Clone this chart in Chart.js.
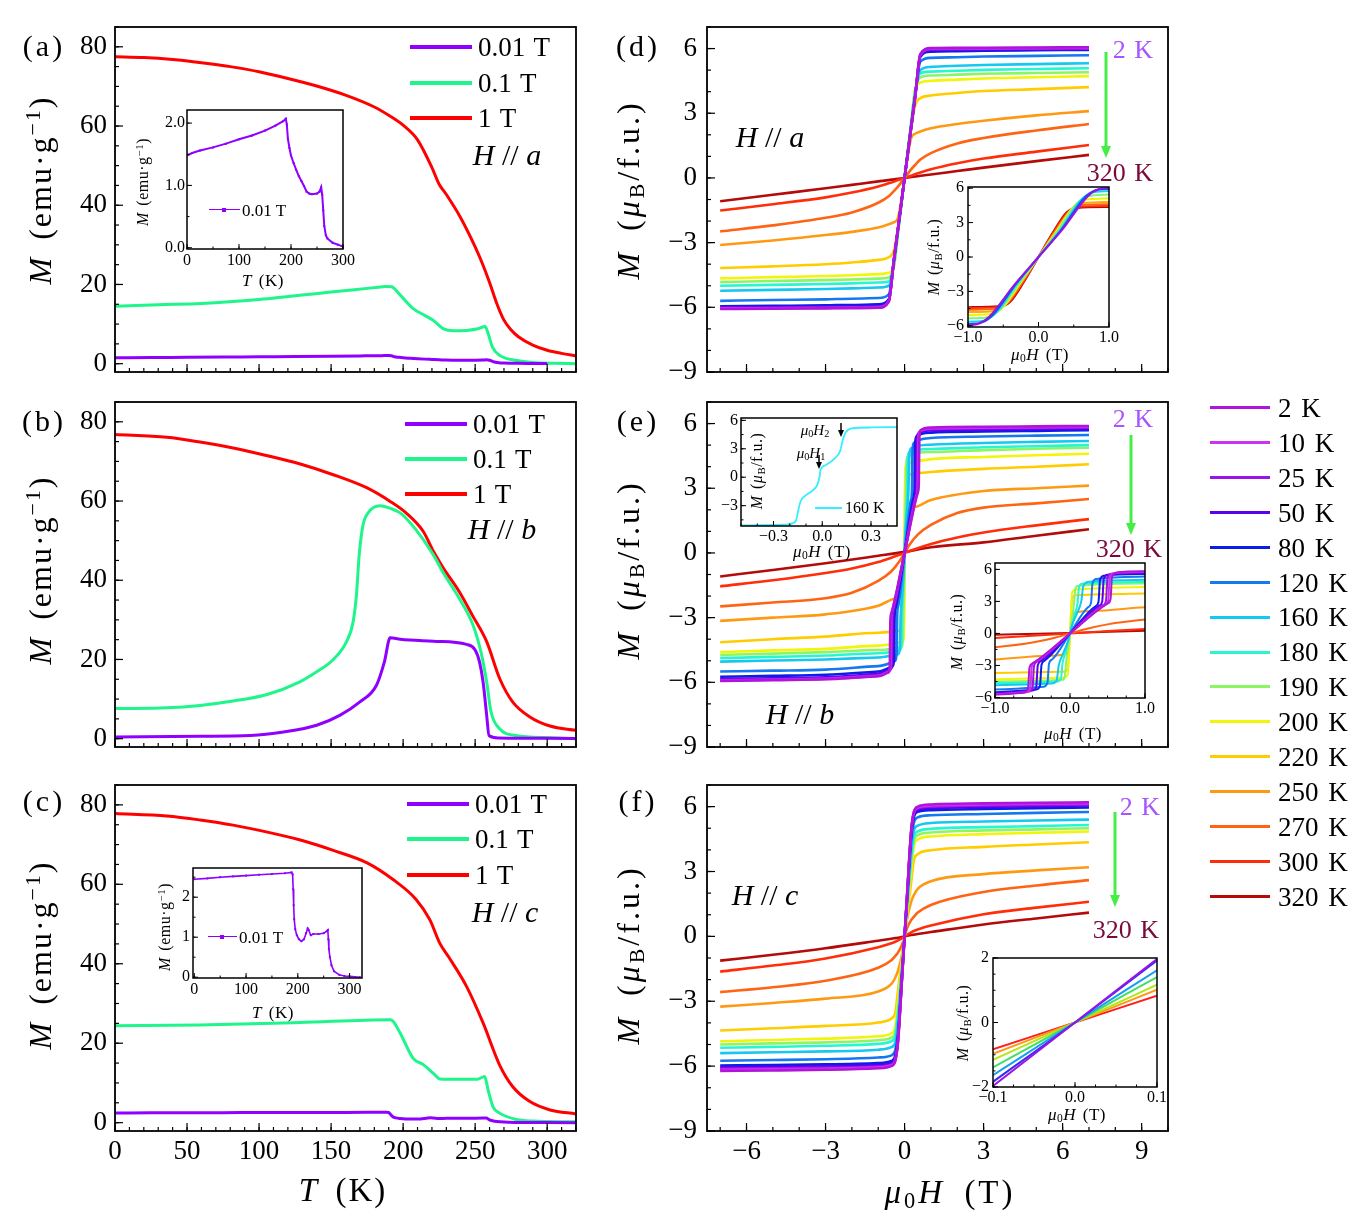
<!DOCTYPE html>
<html>
<head>
<meta charset="utf-8">
<script src="https://cdn.jsdelivr.net/npm/chart.js@4.4.1/dist/chart.umd.min.js"></script>
<style>
  body { margin: 0; background: #fff; width: 1368px; height: 1217px; position: relative; overflow: hidden;
         font-family: 'Liberation Serif', 'DejaVu Serif', serif; color: #000; }
  .t { position: absolute; white-space: nowrap; transform: translate(-50%, -50%); line-height: 1; }
  .l { position: absolute; white-space: nowrap; transform: translate(0, -50%); line-height: 1; }
  .rot { transform: translate(-50%, -50%) rotate(-90deg); }
  sup { font-size: 0.68em; vertical-align: 0.5em; line-height: 0; }
  sub { font-size: 0.68em; vertical-align: -0.25em; line-height: 0; }
  .key { position: absolute; height: 0; }
</style>
</head>
<body>
<script>
// ---------- M(T) data, left column ----------
// (a) H // a
const tA1T = [0, 20, 40, 60, 80, 100, 120, 140, 160, 180, 190, 200, 210, 220, 225, 230, 240, 250, 255, 260, 265, 270, 275, 280, 290, 300, 310, 320];
const mA1T = [77.5, 77.3, 76.8, 76.0, 75.0, 73.7, 72.0, 70.1, 67.8, 64.8, 62.7, 60.2, 56.5, 49.5, 45.3, 42.7, 36.8, 29.5, 25.3, 20.5, 15.2, 11.0, 8.5, 6.8, 4.7, 3.4, 2.6, 2.0];
const tA01 = [0, 30, 60, 100, 150, 180, 188, 192, 198, 207, 215, 221, 228, 235, 244, 252, 257, 259, 262, 267, 279, 290, 305, 320];
const mA01 = [14.5, 14.9, 15.2, 16.2, 18.1, 19.2, 19.5, 19.4, 17.3, 13.9, 12.2, 10.9, 8.8, 8.3, 8.4, 8.8, 9.4, 7.6, 4.2, 2.1, 0.8, 0.3, 0.1, 0.0];
const tA001 = [0, 10, 25, 50, 75, 100, 125, 150, 170, 185, 190, 192, 194, 197, 200, 205, 210, 215, 220, 225, 230, 235, 240, 250, 255, 258, 260, 262, 264, 267, 270, 280, 290, 300];
const mA001 = [1.48, 1.52, 1.56, 1.61, 1.67, 1.74, 1.8, 1.88, 1.96, 2.03, 2.07, 1.98, 1.75, 1.6, 1.48, 1.36, 1.25, 1.15, 1.07, 0.99, 0.9, 0.87, 0.86, 0.87, 0.9, 0.97, 0.85, 0.6, 0.35, 0.2, 0.15, 0.08, 0.05, 0.02];

// (b) H // b
const tB1T = [0, 36, 59, 82, 105, 128, 151, 175, 191, 202, 214, 221, 228, 239, 248, 258, 267, 276, 288, 302, 320];
const mB1T = [76.8, 76.1, 74.9, 73.4, 71.5, 69.4, 66.7, 63.3, 59.9, 57.0, 52.3, 47.3, 43.0, 37.1, 31.2, 24.5, 15.2, 9.3, 5.5, 3.2, 2.1];
const tB01 = [0, 36, 59, 82, 105, 128, 140, 151, 160.7, 165.3, 167.6, 169.5, 172.2, 175.7, 183.8, 190.7, 198, 209, 221, 228, 239, 248.5, 254, 258, 261, 267, 278, 302, 320];
const mB01 = [7.6, 7.8, 8.4, 9.5, 11.1, 14.3, 16.9, 19.8, 24.5, 29.5, 36.3, 46.4, 54.0, 57.0, 58.8, 58.2, 57.0, 52.7, 46.4, 41.8, 35.4, 28.7, 21.9, 14.3, 6.8, 2.5, 0.8, 0.25, 0.0];
const tB001 = [0, 59, 94, 117, 140, 156, 170, 181.5, 187, 191, 198, 221, 244, 250, 253, 255.5, 258, 259.6, 266, 320];
const mB001 = [0.4, 0.6, 0.8, 1.7, 3.4, 5.9, 9.3, 13.5, 19.4, 25.5, 25.1, 24.6, 23.8, 22.4, 19.4, 14.3, 5.9, 0.8, 0.2, 0.05];

// (c) H // c
const tC1T = [0, 36, 59, 82, 105, 128, 151, 175, 193, 209, 218.5, 225.4, 232, 244, 255.5, 267, 276, 288, 302, 320];
const mC1T = [77.8, 77.2, 76.2, 74.9, 73.2, 71.2, 68.6, 65.4, 61.2, 56.2, 51.1, 45.2, 41.5, 34.3, 25.1, 14.5, 9.1, 5.3, 3.2, 2.2];
const tC01 = [0, 59, 128, 191, 193, 198, 207, 214, 221, 225.4, 232, 251, 256.6, 259, 262.4, 267, 278.6, 290, 320];
const mC01 = [24.4, 24.6, 25.2, 25.9, 25.5, 22.5, 16.2, 14.6, 12.4, 11.0, 10.9, 10.9, 11.6, 8.2, 4.0, 2.4, 0.8, 0.4, 0.2];
const tC001 = [0, 25, 50, 75, 100, 125, 150, 175, 188, 190, 191, 192, 193, 195, 198, 202, 207, 212, 216, 219, 221, 225, 230, 240, 250, 256, 258, 259, 260, 262, 265, 270, 280, 290, 300, 320];
const mC001 = [2.45, 2.47, 2.5, 2.52, 2.54, 2.56, 2.58, 2.6, 2.62, 2.57, 2.2, 1.8, 1.45, 1.2, 1.05, 0.95, 0.9, 0.95, 1.1, 1.22, 1.18, 1.05, 1.08, 1.08, 1.1, 1.15, 1.18, 0.95, 0.7, 0.5, 0.3, 0.15, 0.06, 0.03, 0.02, 0.0];

// ---------- M(H) data, right column ----------
const tempLabels = ['2 K', '10 K', '25 K', '50 K', '80 K', '120 K', '160 K', '180 K', '190 K', '200 K', '220 K', '250 K', '270 K', '300 K', '320 K'];
const tempColors = ['#b014dc', '#cc33ee', '#9b14e6', '#5a00f0', '#0a1ee6', '#1478f0', '#14c8f0', '#28f5d2', '#8cf564', '#f0f50a', '#ffcc00', '#ff9914', '#ff6414', '#ff2d0a', '#b40a0a'];

// (d) H // a, one row per temperature on field grid hD
const hD = [-7, -5, -3, -2, -1, -0.6, -0.4, -0.25, 0, 0.25, 0.4, 0.6, 1, 2, 3, 5, 7];
const mD = [
  [-6.08, -6.07, -6.05, -6.04, -6.02, -5.75, -3.75, -2.35, 0, 2.35, 3.75, 5.75, 6.02, 6.03, 6.04, 6.05, 6.06],
  [-6.05, -6.04, -6.03, -6.02, -6.0, -5.73, -3.75, -2.35, 0, 2.35, 3.75, 5.73, 5.99, 6.0, 6.01, 6.02, 6.03],
  [-6.03, -6.02, -6.01, -6.0, -5.98, -5.7, -3.75, -2.35, 0, 2.35, 3.75, 5.7, 5.97, 5.98, 5.99, 6.0, 6.01],
  [-6.0, -5.99, -5.98, -5.97, -5.95, -5.68, -3.75, -2.35, 0, 2.35, 3.75, 5.68, 5.94, 5.95, 5.96, 5.97, 5.98],
  [-5.95, -5.93, -5.91, -5.89, -5.86, -5.62, -3.75, -2.35, 0, 2.35, 3.75, 5.62, 5.86, 5.88, 5.9, 5.92, 5.94],
  [-5.7, -5.66, -5.63, -5.6, -5.57, -5.4, -3.8, -2.4, 0, 2.4, 3.8, 5.4, 5.57, 5.6, 5.63, 5.66, 5.69],
  [-5.23, -5.19, -5.15, -5.12, -5.08, -5.0, -3.9, -2.45, 0, 2.45, 3.9, 5.0, 5.15, 5.2, 5.24, 5.28, 5.32],
  [-5.0, -4.96, -4.92, -4.89, -4.85, -4.8, -4.0, -2.5, 0, 2.5, 4.0, 4.85, 4.93, 4.97, 5.01, 5.05, 5.09],
  [-4.83, -4.78, -4.74, -4.71, -4.67, -4.62, -4.05, -2.55, 0, 2.55, 4.05, 4.67, 4.75, 4.79, 4.83, 4.87, 4.9],
  [-4.66, -4.6, -4.55, -4.51, -4.46, -4.4, -4.1, -2.6, 0, 2.6, 4.1, 4.42, 4.5, 4.56, 4.61, 4.67, 4.72],
  [-4.18, -4.1, -4.0, -3.92, -3.8, -3.68, -3.35, -2.3, 0, 2.3, 3.35, 3.7, 3.82, 3.94, 4.03, 4.12, 4.21],
  [-3.11, -2.9, -2.65, -2.5, -2.3, -2.15, -2.05, -1.85, 0, 1.85, 2.05, 2.15, 2.3, 2.5, 2.65, 2.9, 3.1],
  [-2.48, -2.2, -1.85, -1.6, -1.15, -0.85, -0.6, -0.4, 0, 0.4, 0.6, 0.85, 1.15, 1.6, 1.85, 2.2, 2.5],
  [-1.51, -1.22, -0.9, -0.68, -0.4, -0.25, -0.17, -0.1, 0, 0.1, 0.17, 0.25, 0.4, 0.68, 0.9, 1.22, 1.53],
  [-1.08, -0.78, -0.48, -0.32, -0.16, -0.1, -0.065, -0.04, 0, 0.04, 0.065, 0.1, 0.16, 0.32, 0.48, 0.78, 1.07]
];

// inset of (d): low-field loops
const inDColors = ['#9614e6', '#1450f0', '#14d2f0', '#7cf57c', '#f0f00a', '#ffaa00', '#ff6414', '#ff2d0a', '#b40a0a'];
const inD = [
  [[-1, -5.95], [-0.85, -5.82], [-0.7, -5.2], [-0.34, -2.4], [0, 0], [0.34, 2.4], [0.7, 5.3], [0.85, 5.9], [1, 6.0]],
  [[-1, -5.85], [-0.8, -5.7], [-0.65, -5.05], [-0.32, -2.35], [0, 0], [0.32, 2.35], [0.65, 5.15], [0.8, 5.8], [1, 5.95]],
  [[-1, -5.65], [-0.75, -5.5], [-0.6, -4.85], [-0.3, -2.3], [0, 0], [0.3, 2.3], [0.6, 4.95], [0.75, 5.6], [1, 5.75]],
  [[-1, -5.35], [-0.7, -5.22], [-0.55, -4.6], [-0.27, -2.25], [0, 0], [0.27, 2.25], [0.55, 4.7], [0.7, 5.3], [1, 5.45]],
  [[-1, -5.05], [-0.65, -4.95], [-0.5, -4.35], [-0.25, -2.2], [0, 0], [0.25, 2.2], [0.5, 4.4], [0.65, 5.0], [1, 5.1]],
  [[-1, -4.8], [-0.63, -4.7], [-0.48, -4.2], [-0.24, -2.15], [0, 0], [0.24, 2.15], [0.48, 4.2], [0.63, 4.7], [1, 4.8]],
  [[-1, -4.6], [-0.6, -4.52], [-0.45, -4.05], [-0.22, -2.1], [0, 0], [0.22, 2.1], [0.45, 4.05], [0.6, 4.52], [1, 4.6]],
  [[-1, -4.45], [-0.57, -4.38], [-0.42, -3.95], [-0.21, -2.1], [0, 0], [0.21, 2.1], [0.42, 3.95], [0.57, 4.38], [1, 4.45]],
  [[-1, -4.37], [-0.55, -4.3], [-0.4, -3.9], [-0.2, -2.1], [0, 0], [0.2, 2.1], [0.4, 3.9], [0.55, 4.28], [1, 4.35]]
];

// (e) H // b, [H, M] pairs per temperature (steps differ per curve)
const mE = [
  [[-7, -5.94], [-5, -5.9], [-3, -5.86], [-1, -5.72], [-0.62, -5.55], [-0.56, -5.2], [-0.54, -3.2], [-0.5, -2.8], [0, 0], [0.5, 2.8], [0.54, 3.2], [0.56, 5.3], [0.62, 5.7], [1, 5.82], [3, 5.85], [5, 5.87], [7, 5.89]],
  [[-7, -5.92], [-5, -5.88], [-3, -5.84], [-1, -5.7], [-0.58, -5.5], [-0.53, -5.15], [-0.51, -3.1], [-0.47, -2.7], [0, 0], [0.47, 2.7], [0.51, 3.1], [0.53, 5.25], [0.58, 5.65], [1, 5.78], [3, 5.81], [5, 5.83], [7, 5.85]],
  [[-7, -5.9], [-5, -5.86], [-3, -5.82], [-1, -5.68], [-0.55, -5.45], [-0.5, -5.1], [-0.48, -3.05], [-0.44, -2.65], [0, 0], [0.44, 2.65], [0.48, 3.05], [0.5, 5.2], [0.55, 5.6], [1, 5.74], [3, 5.78], [5, 5.8], [7, 5.82]],
  [[-7, -5.85], [-5, -5.81], [-3, -5.77], [-1, -5.6], [-0.5, -5.35], [-0.45, -5.0], [-0.43, -3.0], [-0.39, -2.6], [0, 0], [0.39, 2.6], [0.43, 3.0], [0.45, 5.1], [0.5, 5.5], [1, 5.68], [3, 5.72], [5, 5.75], [7, 5.77]],
  [[-7, -5.74], [-5, -5.7], [-3, -5.65], [-1, -5.5], [-0.45, -5.25], [-0.4, -4.9], [-0.38, -2.95], [-0.34, -2.55], [0, 0], [0.34, 2.55], [0.38, 2.95], [0.4, 5.0], [0.45, 5.4], [1, 5.58], [3, 5.63], [5, 5.66], [7, 5.69]],
  [[-7, -5.5], [-5, -5.46], [-3, -5.41], [-1, -5.25], [-0.35, -5.0], [-0.3, -4.6], [-0.28, -2.85], [-0.24, -2.45], [0, 0], [0.24, 2.45], [0.28, 2.85], [0.3, 4.7], [0.35, 5.1], [1, 5.33], [3, 5.4], [5, 5.44], [7, 5.47]],
  [[-7, -5.04], [-5, -4.99], [-3, -4.94], [-1, -4.85], [-0.25, -4.7], [-0.18, -4.45], [-0.15, -3.0], [-0.1, -2.0], [-0.03, -0.8], [0, 0], [0.03, 0.8], [0.1, 2.0], [0.15, 3.0], [0.18, 4.5], [0.25, 4.85], [1, 5.02], [3, 5.1], [5, 5.15], [7, 5.19]],
  [[-7, -4.88], [-5, -4.82], [-3, -4.76], [-1, -4.65], [-0.16, -4.5], [-0.12, -4.2], [-0.1, -2.8], [-0.07, -2.0], [0, 0], [0.07, 2.0], [0.1, 2.8], [0.12, 4.3], [0.16, 4.65], [1, 4.82], [3, 4.9], [5, 4.95], [7, 5.0]],
  [[-7, -4.73], [-5, -4.67], [-3, -4.6], [-1, -4.5], [-0.1, -4.35], [-0.07, -4.05], [-0.05, -2.6], [-0.03, -1.6], [0, 0], [0.03, 1.6], [0.05, 2.6], [0.07, 4.1], [0.1, 4.45], [1, 4.68], [3, 4.77], [5, 4.83], [7, 4.88]],
  [[-7, -4.6], [-5, -4.52], [-3, -4.45], [-1, -4.3], [-0.1, -4.15], [-0.03, -3.9], [0, 0], [0.03, 3.9], [0.1, 4.15], [1, 4.35], [3, 4.45], [5, 4.53], [7, 4.6]],
  [[-7, -4.14], [-5, -4.0], [-3, -3.88], [-1, -3.7], [-0.1, -3.6], [-0.03, -3.35], [0, 0], [0.03, 3.35], [0.1, 3.6], [1, 3.75], [3, 3.9], [5, 4.0], [7, 4.11]],
  [[-7, -3.15], [-5, -3.0], [-3, -2.85], [-1, -2.45], [-0.3, -2.1], [-0.05, -1.9], [0, 0], [0.05, 1.9], [0.3, 2.1], [1, 2.45], [3, 2.87], [5, 3.0], [7, 3.12]],
  [[-7, -2.48], [-5, -2.3], [-3, -2.1], [-2, -1.85], [-1, -1.3], [-0.5, -0.85], [-0.2, -0.4], [0, 0], [0.2, 0.4], [0.5, 0.85], [1, 1.3], [2, 1.85], [3, 2.1], [5, 2.3], [7, 2.5]],
  [[-7, -1.55], [-5, -1.27], [-3, -0.93], [-2, -0.72], [-1, -0.42], [-0.5, -0.22], [0, 0], [0.5, 0.22], [1, 0.42], [2, 0.72], [3, 0.95], [5, 1.28], [7, 1.57]],
  [[-7, -1.09], [-5, -0.79], [-3, -0.48], [-1, -0.13], [0, 0.05], [1, 0.26], [3, 0.49], [5, 0.8], [7, 1.1]]
];
// inset of (e): 160 K sweep
const hE160 = [-0.5, -0.25, -0.18, -0.16, -0.145, -0.133, -0.1, -0.06, -0.03, -0.016, -0.01, 0.02, 0.08, 0.11, 0.127, 0.143, 0.18, 0.3, 0.47];
const mE160 = [-5.09, -5.02, -4.84, -4.5, -3.3, -2.54, -1.9, -1.41, -0.78, 0.1, 0.81, 1.27, 2.05, 2.76, 3.99, 4.7, 5.16, 5.25, 5.3];

// (f) H // c, one row per temperature on field grid hF
const hF = [-7, -5, -3, -1, -0.5, -0.35, -0.25, -0.1, 0, 0.1, 0.25, 0.35, 0.5, 1, 3, 5, 7];
const mF = [
  [-6.22, -6.2, -6.17, -6.1, -6.0, -5.75, -4.9, -2.0, 0, 2.0, 4.9, 5.75, 6.0, 6.1, 6.15, 6.18, 6.2],
  [-6.17, -6.15, -6.12, -6.06, -5.96, -5.72, -4.85, -1.98, 0, 1.98, 4.85, 5.72, 5.96, 6.05, 6.1, 6.13, 6.15],
  [-6.12, -6.1, -6.08, -6.02, -5.92, -5.68, -4.8, -1.96, 0, 1.96, 4.8, 5.68, 5.92, 6.0, 6.05, 6.08, 6.1],
  [-6.06, -6.04, -6.01, -5.95, -5.85, -5.6, -4.75, -1.93, 0, 1.93, 4.75, 5.6, 5.85, 5.93, 5.98, 6.02, 6.05],
  [-5.97, -5.95, -5.92, -5.86, -5.76, -5.5, -4.65, -1.88, 0, 1.88, 4.65, 5.5, 5.76, 5.84, 5.89, 5.93, 5.96],
  [-5.75, -5.72, -5.68, -5.6, -5.5, -5.25, -4.4, -1.75, 0, 1.75, 4.4, 5.25, 5.5, 5.6, 5.66, 5.71, 5.75],
  [-5.4, -5.36, -5.32, -5.24, -5.12, -4.9, -3.95, -1.62, 0, 1.62, 3.95, 4.9, 5.12, 5.24, 5.31, 5.36, 5.4],
  [-5.15, -5.11, -5.06, -4.97, -4.85, -4.6, -3.6, -1.5, 0, 1.5, 3.6, 4.6, 4.85, 4.97, 5.05, 5.1, 5.15],
  [-5.0, -4.95, -4.9, -4.8, -4.68, -4.4, -3.4, -1.4, 0, 1.4, 3.4, 4.4, 4.68, 4.8, 4.9, 4.95, 5.0],
  [-4.85, -4.79, -4.73, -4.62, -4.48, -4.15, -3.0, -1.17, 0, 1.17, 3.0, 4.15, 4.48, 4.62, 4.73, 4.79, 4.85],
  [-4.35, -4.25, -4.14, -3.98, -3.8, -3.5, -2.5, -1.0, 0, 1.0, 2.5, 3.5, 3.8, 3.98, 4.14, 4.25, 4.35],
  [-3.25, -3.08, -2.88, -2.55, -2.2, -1.9, -1.6, -0.85, 0, 0.85, 1.6, 1.9, 2.2, 2.55, 2.88, 3.05, 3.2],
  [-2.58, -2.35, -2.05, -1.45, -1.1, -0.9, -0.75, -0.4, 0, 0.4, 0.75, 0.9, 1.1, 1.45, 2.05, 2.35, 2.6],
  [-1.63, -1.35, -1.02, -0.5, -0.32, -0.25, -0.19, -0.08, 0, 0.08, 0.19, 0.25, 0.32, 0.5, 1.02, 1.33, 1.6],
  [-1.12, -0.85, -0.55, -0.2, -0.11, -0.08, -0.06, -0.025, 0, 0.025, 0.06, 0.08, 0.11, 0.2, 0.55, 0.83, 1.1]
];
// inset of (f): initial slopes
const inFColors = ['#9614e6', '#3c28f0', '#14a0f0', '#44dd66', '#b4e614', '#ff9614', '#ff1e1e'];
const inF = [
  [[-0.1, -1.97], [0, 0], [0.1, 1.97]],
  [[-0.1, -1.84], [0, 0], [0.1, 1.92]],
  [[-0.1, -1.63], [0, 0], [0.1, 1.62]],
  [[-0.1, -1.39], [0, 0], [0.1, 1.41]],
  [[-0.1, -1.16], [0, 0], [0.1, 1.17]],
  [[-0.1, -0.97], [0, 0], [0.1, 1.02]],
  [[-0.1, -0.83], [0, 0], [0.1, 0.83]]
];

const PURPLE = '#8f00ff', GREEN = '#1ef58a', RED = '#ff0000';
const FONT = "'Liberation Serif', 'DejaVu Serif', serif";

// ---------- helpers ----------
const zip = (xs, ys) => xs.map((x, i) => [x, ys[i]]);
const num = (v, d) => (v < -1e-9 ? '\u2212' : '') + Math.abs(v).toFixed(d);

function line(pts, color, w, extra) {
  return Object.assign({
    data: pts.map(p => ({x: p[0], y: p[1]})),
    borderColor: color, backgroundColor: color, borderWidth: w,
    pointRadius: 0, fill: false, cubicInterpolationMode: 'monotone'
  }, extra || {});
}

// box, inward ticks and white background for insets
const framePlugin = {
  id: 'frame',
  beforeDraw(chart, args, o) {
    if (!o.bg) return;
    const a = chart.chartArea, ctx = chart.ctx;
    ctx.save();
    ctx.fillStyle = '#fff';
    ctx.fillRect(a.left, a.top, a.width, a.height);
    ctx.restore();
  },
  afterDatasetsDraw(chart, args, o) {
    const a = chart.chartArea, ctx = chart.ctx;
    const sx = chart.scales.x, sy = chart.scales.y;
    ctx.save();
    ctx.strokeStyle = '#000';
    ctx.lineWidth = o.tw;
    const marks = (sc, step, len, horiz) => {
      const i0 = Math.ceil(sc.min / step - 1e-6), i1 = Math.floor(sc.max / step + 1e-6);
      for (let i = i0; i <= i1; i++) {
        const p = sc.getPixelForValue(i * step);
        ctx.beginPath();
        if (horiz) { ctx.moveTo(p, a.bottom); ctx.lineTo(p, a.bottom - len); }
        else { ctx.moveTo(a.left, p); ctx.lineTo(a.left + len, p); }
        ctx.stroke();
      }
    };
    marks(sx, o.x[0], o.len, true);
    marks(sx, o.x[1], o.len * 0.5, true);
    marks(sy, o.y[0], o.len, false);
    marks(sy, o.y[1], o.len * 0.5, false);
    ctx.lineWidth = o.fw;
    ctx.strokeRect(a.left, a.top, a.width, a.height);
    ctx.restore();
  }
};

function plot(p) {
  const padT = 12, padR = 22;
  const W = p.yw + p.w + padR, H = padT + p.h + p.xh;
  const cv = document.createElement('canvas');
  cv.width = W; cv.height = H;
  cv.style.cssText = 'position:absolute;left:' + (p.l - p.yw) + 'px;top:' + (p.t - padT) + 'px;width:' + W + 'px;height:' + H + 'px;z-index:' + (p.z || 1);
  document.body.appendChild(cv);
  const tick = (show, step, d, pd) => ({
    display: show, stepSize: step, includeBounds: false, autoSkip: false,
    maxRotation: 0, minRotation: 0, padding: pd, color: '#000',
    font: {family: FONT, size: p.fs}, callback: v => num(v, d)
  });
  // keep the plot box exactly where it was measured: no extra room for edge labels
  const fitX = s => { s.height = p.xh; s.paddingLeft = 0; s.paddingRight = 0; };
  const fitY = s => { s.width = p.yw; s.paddingTop = 0; s.paddingBottom = 0; };
  return new Chart(cv, {
    type: 'line',
    data: {datasets: p.sets},
    options: {
      responsive: false, animation: false, events: [],
      layout: {padding: {top: padT, right: padR, left: 0, bottom: 0}},
      plugins: {
        legend: {display: false}, tooltip: {enabled: false},
        frame: {bg: !!p.bg, x: p.xt, y: p.yt, len: p.len, tw: p.tw || 1.2, fw: p.fw || 1.8}
      },
      scales: {
        x: {type: 'linear', min: p.x[0], max: p.x[1], afterFit: fitX,
            grid: {display: false, drawTicks: false}, border: {display: false},
            ticks: tick(p.xl, p.xt[0], p.xd, p.xp)},
        y: {type: 'linear', min: p.y[0], max: p.y[1], afterFit: fitY,
            grid: {display: false, drawTicks: false}, border: {display: false},
            ticks: tick(true, p.yt[0], p.yd, p.yp)}
      }
    },
    plugins: [framePlugin]
  });
}

function txt(html, x, y, size, cls, extra) {
  const d = document.createElement('div');
  d.className = cls || 't';
  d.style.left = x + 'px';
  d.style.top = y + 'px';
  d.style.fontSize = size + 'px';
  d.style.zIndex = 6;
  if (extra) d.style.cssText += extra;
  d.innerHTML = html;
  document.body.appendChild(d);
}
function key(x1, x2, y, color, w) {
  const d = document.createElement('div');
  d.className = 'key';
  d.style.cssText = 'left:' + x1 + 'px;top:' + (y - w / 2) + 'px;width:' + (x2 - x1) + 'px;border-top:' + w + 'px solid ' + color + ';z-index:6';
  document.body.appendChild(d);
}

// ---------- left column: M(T) ----------
const leftBase = {l: 115, w: 461, h: 345, yw: 70, xh: 8, x: [0, 320], y: [-2.1, 85], xt: [50, 10], yt: [20, 5],
                  xd: 0, yd: 0, fs: 27, xl: false, xp: 5, yp: 8, len: 8};
const mtSets = (t1, m1, t2, m2, t3, m3) => [
  line(zip(t3, m3), PURPLE, 3),
  line(zip(t2, m2), GREEN, 3),
  line(zip(t1, m1), RED, 3)
];
plot(Object.assign({}, leftBase, {t: 27, sets: mtSets(tA1T, mA1T, tA01, mA01, tA001, mA001)}));
plot(Object.assign({}, leftBase, {t: 402, sets: mtSets(tB1T, mB1T, tB01, mB01, tB001, mB001)}));
plot(Object.assign({}, leftBase, {t: 785, h: 346, xh: 45, xl: true, sets: mtSets(tC1T, mC1T, tC01, mC01, tC001, mC001)}));

// insets of (a) and (c)
const insetMarks = {pointRadius: 1.4, pointStyle: 'rect', pointBorderWidth: 0, cubicInterpolationMode: 'default', tension: 0};
plot({l: 187, t: 110, w: 156, h: 139, yw: 40, xh: 24, x: [0, 300], y: [-0.02, 2.21], xt: [100, 50], yt: [1, 0.5],
      xd: 0, yd: 1, fs: 16, xl: true, xp: 2, yp: 2, len: 5, tw: 1, fw: 1.5, z: 2, bg: true,
      sets: [line(zip(tA001, mA001), PURPLE, 2, insetMarks)]});
plot({l: 193, t: 868, w: 169, h: 110, yw: 40, xh: 24, x: [-2.5, 324], y: [-0.02, 2.73], xt: [100, 50], yt: [1, 0.5],
      xd: 0, yd: 0, fs: 16, xl: true, xp: 2, yp: 3, len: 5, tw: 1, fw: 1.5, z: 2, bg: true,
      sets: [line(zip(tC001, mC001), PURPLE, 1.6, insetMarks)]});

// ---------- right column: M(H) ----------
const rightBase = {l: 707, w: 461, h: 345, yw: 70, xh: 8, x: [-7.5, 10], y: [-9, 7], xt: [3, 1], yt: [3, 1],
                   xd: 0, yd: 0, fs: 27, xl: false, xp: 5, yp: 10, len: 8};
const rowSets = (hs, rows, w) => rows.map((r, i) => line(zip(hs, r), tempColors[i], w));
plot(Object.assign({}, rightBase, {t: 27, sets: rowSets(hD, mD, 2.6)}));
plot(Object.assign({}, rightBase, {t: 402, sets: mE.map((c, i) => line(c, tempColors[i], 2.6))}));
plot(Object.assign({}, rightBase, {t: 785, h: 346, xh: 45, xl: true, sets: rowSets(hF, mF, 2.6)}));

// insets of (d), (e), (f)
plot({l: 968, t: 187, w: 141, h: 140, yw: 40, xh: 22, x: [-1, 1], y: [-6.1, 6.1], xt: [1, 0.5], yt: [3, 1.5],
      xd: 1, yd: 0, fs: 16, xl: true, xp: 1, yp: 4, len: 5, tw: 1, fw: 1.5, z: 2, bg: true,
      sets: inD.map((c, i) => line(c, inDColors[i], 2))});
plot({l: 741, t: 418, w: 156, h: 108, yw: 30, xh: 22, x: [-0.5, 0.46], y: [-5.15, 6.25], xt: [0.3, 0.1], yt: [3, 1.5],
      xd: 1, yd: 0, fs: 16, xl: true, xp: 1, yp: 3, len: 5, tw: 1, fw: 1.5, z: 2, bg: true,
      sets: [line(zip(hE160, mE160), '#33eeff', 1.8)]});
plot({l: 995, t: 563, w: 150, h: 135, yw: 40, xh: 22, x: [-1, 1], y: [-6.05, 6.6], xt: [1, 0.25], yt: [3, 1.5],
      xd: 1, yd: 0, fs: 16, xl: true, xp: 1, yp: 3, len: 5, tw: 1, fw: 1.5, z: 2, bg: true,
      sets: mE.map((c, i) => line(c, tempColors[i], 2))});
plot({l: 993, t: 958, w: 164, h: 129, yw: 40, xh: 22, x: [-0.1, 0.1], y: [-2, 2], xt: [0.1, 0.025], yt: [2, 0.5],
      xd: 1, yd: 0, fs: 16, xl: true, xp: 1, yp: 4, len: 5, tw: 1, fw: 1.5, z: 2, bg: true,
      sets: inF.map((c, i) => line(c, inFColors[i], 2))});

// ---------- text ----------
const emu = '<i>M</i> (emu·g<sup>\u22121</sup>)';
const mub = '<i>M</i> (<i>\u03bc</i><sub>B</sub>/f.u.)';
const muH = '<i>\u03bc</i><sub>0</sub><i>H</i> (T)';
const wide = 'letter-spacing:2px;word-spacing:6px;';

[['(a)', 44, 46], ['(b)', 44, 421], ['(c)', 44, 801], ['(d)', 638, 46], ['(e)', 638, 421], ['(f)', 638, 801]]
  .forEach(p => txt(p[0], p[1], p[2], 30, 't', 'letter-spacing:3px;'));
[190, 570, 955].forEach(y => txt(emu, 40, y, 32, 't rot', wide));
[190, 570, 955].forEach(y => txt(mub, 628, y, 32, 't rot', 'letter-spacing:3px;word-spacing:8px;'));
txt('<i>T</i> (K)', 343, 1190, 33, 't', wide);
txt(muH, 950, 1192, 33, 't', 'letter-spacing:3px;word-spacing:8px;');

// left legends
[[410, 478, [47, 83, 118]], [405, 473, [424, 459, 494]], [407, 475, [804, 839, 875]]].forEach(g => {
  [PURPLE, GREEN, RED].forEach((c, i) => key(g[0], g[0] + 62, g[2][i], c, 4));
  ['0.01 T', '0.1 T', '1 T'].forEach((s, i) => txt(s, g[1], g[2][i], 27, 'l', 'word-spacing:2px;'));
});
txt('<i>H</i> // <i>a</i>', 507, 155, 30);
txt('<i>H</i> // <i>b</i>', 502, 529, 30);
txt('<i>H</i> // <i>c</i>', 505, 912, 30);
txt('<i>H</i> // <i>a</i>', 770, 137, 30);
txt('<i>H</i> // <i>b</i>', 800, 714, 30);
txt('<i>H</i> // <i>c</i>', 765, 895, 30);

// temperature legend
tempLabels.forEach((s, i) => {
  const y = 408 + 34.9 * i;
  key(1210, 1270, y, tempColors[i], 3.5);
  txt(s, 1278, y, 27, 'l', 'word-spacing:3px;');
});
// 2 K -> 320 K markers
[[1133, 50, 1120, 173], [1133, 419, 1129, 549], [1140, 807, 1126, 930]].forEach(p => {
  txt('2 K', p[0], p[1], 26, 't', 'color:#a855ff;word-spacing:2px;');
  txt('320 K', p[2], p[3], 26, 't', 'color:#7a0a3a;word-spacing:2px;');
});

// inset texts
const sm = 'letter-spacing:0.5px;word-spacing:2px;';
txt(emu, 143, 182, 16, 't rot', sm);
txt('<i>T</i> (K)', 263, 280, 17, 't', sm);
key(209, 240, 210, PURPLE, 1.5);
key(222, 226, 210, PURPLE, 4);
txt('0.01 T', 242, 210, 17, 'l');
txt(emu, 165, 927, 16, 't rot', sm);
txt('<i>T</i> (K)', 273, 1012, 17, 't', sm);
key(208, 237, 937, PURPLE, 1.5);
key(220, 224, 937, PURPLE, 4);
txt('0.01 T', 239, 937, 17, 'l');
txt(mub, 934, 257, 16, 't rot', sm);
txt(muH, 1040, 354, 17, 't', sm);
txt(mub, 757, 471, 16, 't rot', sm);
txt(muH, 822, 551, 17, 't', sm);
key(815, 842, 508, '#33eeff', 2);
txt('160 K', 845, 508, 16, 'l');
txt('<i>\u03bc</i><sub>0</sub><i>H</i><sub>2</sub>', 815, 430, 15);
txt('<i>\u03bc</i><sub>0</sub><i>H</i><sub>1</sub>', 811, 453, 15);
txt(mub, 957, 632, 16, 't rot', sm);
txt(muH, 1073, 733, 17, 't', sm);
txt(mub, 963, 1023, 16, 't rot', sm);
txt(muH, 1077, 1114, 17, 't', sm);

// arrows
const svgNS = 'http://www.w3.org/2000/svg';
const svg = document.createElementNS(svgNS, 'svg');
svg.setAttribute('width', 1368); svg.setAttribute('height', 1217);
svg.style.cssText = 'position:absolute;left:0;top:0;z-index:5';
document.body.appendChild(svg);
function arrow(x, y1, y2, color, w, hw, hl) {
  const ln = document.createElementNS(svgNS, 'line');
  ln.setAttribute('x1', x); ln.setAttribute('x2', x);
  ln.setAttribute('y1', y1); ln.setAttribute('y2', y2 - hl + 1);
  ln.setAttribute('stroke', color); ln.setAttribute('stroke-width', w);
  svg.appendChild(ln);
  const pg = document.createElementNS(svgNS, 'polygon');
  pg.setAttribute('points', (x - hw) + ',' + (y2 - hl) + ' ' + (x + hw) + ',' + (y2 - hl) + ' ' + x + ',' + y2);
  pg.setAttribute('fill', color);
  svg.appendChild(pg);
}
arrow(1106, 52, 158, '#44ee44', 3, 5, 12);
arrow(1131, 435, 535, '#44ee44', 3, 5, 12);
arrow(1115, 812, 907, '#44ee44', 3, 5, 12);
arrow(841, 423, 437, '#000', 1.5, 3, 7);
arrow(819, 455, 469, '#000', 1.5, 3, 7);
</script>
</body>
</html>
